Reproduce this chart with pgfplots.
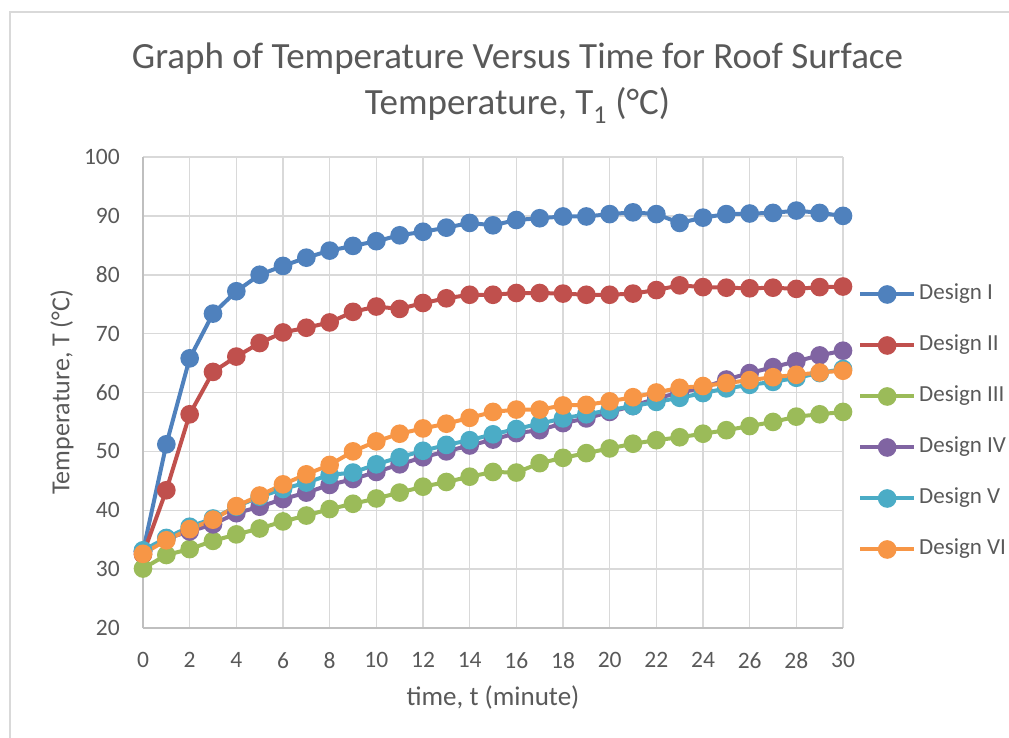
\documentclass[border=0pt]{standalone}
\usepackage{pgfplots}
\usepackage{pgfplotstable}
\pgfplotsset{compat=1.18}
\usepackage{fontspec}
\setmainfont{Carlito}
\definecolor{cI}{HTML}{4F81BD}
\definecolor{cII}{HTML}{C0504D}
\definecolor{cIII}{HTML}{9BBB59}
\definecolor{cIV}{HTML}{8064A2}
\definecolor{cV}{HTML}{4BACC6}
\definecolor{cVI}{HTML}{F79646}
\definecolor{txt}{HTML}{595959}
\definecolor{gridc}{HTML}{D9D9D9}
\definecolor{axc}{HTML}{BFBFBF}

\pgfplotstableread{
t  dI    dII   dIII  dIV   dV    dVI
0  33.0  32.5  30.1  33.0  33.2  32.6
1  51.2  43.4  32.4  35.2  35.3  34.9
2  65.8  56.3  33.4  36.4  37.2  36.8
3  73.4  63.5  34.8  37.6  38.6  38.4
4  77.2  66.1  35.9  39.5  40.6  40.7
5  80.0  68.4  36.9  40.6  42.3  42.5
6  81.5  70.2  38.1  41.9  43.6  44.4
7  82.9  71.0  39.1  43.0  44.7  46.1
8  84.1  71.9  40.2  44.3  46.0  47.7
9  84.9  73.7  41.1  45.3  46.4  50.0
10 85.7  74.6  42.0  46.5  47.8  51.7
11 86.7  74.2  43.0  47.8  49.0  53.0
12 87.3  75.2  44.0  49.0  50.1  53.9
13 88.0  76.0  44.8  50.0  51.1  54.7
14 88.8  76.6  45.7  51.0  51.9  55.7
15 88.4  76.6  46.5  52.0  52.9  56.7
16 89.3  76.9  46.4  53.1  53.8  57.1
17 89.6  76.9  48.0  53.6  54.7  57.1
18 89.9  76.8  48.9  54.8  55.6  57.8
19 89.9  76.6  49.7  55.6  56.3  57.9
20 90.3  76.6  50.5  56.7  57.0  58.5
21 90.6  76.8  51.3  57.7  57.7  59.2
22 90.3  77.4  51.9  59.0  58.4  60.0
23 88.8  78.2  52.4  60.0  59.1  60.8
24 89.7  77.9  53.0  60.8  59.9  61.1
25 90.3  77.8  53.6  62.2  60.7  61.6
26 90.4  77.7  54.3  63.3  61.3  62.1
27 90.5  77.8  55.0  64.3  61.8  62.6
28 90.9  77.6  55.9  65.3  62.5  63.0
29 90.5  77.9  56.3  66.3  63.3  63.4
30 90.0  78.0  56.7  67.1  64.0  63.7
}\data

\begin{document}
\begin{tikzpicture}
\useasboundingbox (0pt,0pt) rectangle (1009pt,737pt);
\draw[gridc, line width=1.5pt] (10pt,-5pt) -- (10pt,725pt) -- (1020pt,725pt);
\begin{axis}[
  at={(143pt,109pt)}, anchor=south west,
  scale only axis, width=700pt, height=471pt,
  xmin=0, xmax=30, ymin=20, ymax=100,
  xtick={0,2,...,30}, ytick={20,30,...,100},
  axis x line*=bottom, axis y line*=left,
  axis line style={axc, line width=1.5pt, -},
  major tick length=0pt,
  grid=major,
  major grid style={gridc, line width=1.5pt},
  clip=false,
  /pgf/number format/assume math mode=true,
  tick label style={font=\fontsize{23.5}{28}\selectfont, text=txt},
  xticklabel style={anchor=north, inner sep=0pt, yshift=-24pt},
  yticklabel style={anchor=east, inner sep=0pt, xshift=-23pt},
  title={Graph of Temperature Versus Time for Roof Surface\\Temperature, T\textsubscript{1} (°C)},
  title style={at={(axis description cs:0.535,1.144)}, anchor=center, align=center,
    font=\fontsize{37}{46}\selectfont, text=txt},
  xlabel={time, t (minute)},
  xlabel style={at={(axis description cs:0.5,-0.1485)}, anchor=center, font=\fontsize{27}{30}\selectfont, text=txt},
  ylabel={Temperature, T (°C)},
  ylabel style={at={(axis description cs:-0.1157,0.501)}, anchor=center, rotate=0, font=\fontsize{26}{30}\selectfont, text=txt},
  every axis plot/.append style={line width=4pt, mark=*, mark size=7.3pt, mark options={solid}},
  legend image code/.code={\draw[mark repeat=2,mark phase=2,#1] plot coordinates {(0pt,0pt) (27pt,0pt) (54pt,0pt)};},
  legend style={at={(axis description cs:1.0214,0.4374)}, anchor=west, draw=none, fill=none,
    inner sep=0pt, row sep=31pt,
    font=\fontsize{23}{28}\selectfont, text=txt,
    nodes={inner sep=0pt, text height=15pt, text depth=5pt, anchor=west},
    /tikz/every odd column/.append style={column sep=3pt}},
  legend cell align=left,
]
\addplot[color=cI] table[x=t, y=dI] {\data};
\addlegendentry{Design I}
\addplot[color=cII] table[x=t, y=dII] {\data};
\addlegendentry{Design II}
\addplot[color=cIII] table[x=t, y=dIII] {\data};
\addlegendentry{Design III}
\addplot[color=cIV] table[x=t, y=dIV] {\data};
\addlegendentry{Design IV}
\addplot[color=cV] table[x=t, y=dV] {\data};
\addlegendentry{Design V}
\addplot[color=cVI] table[x=t, y=dVI] {\data};
\addlegendentry{Design VI}
\end{axis}
\end{tikzpicture}
\end{document}
